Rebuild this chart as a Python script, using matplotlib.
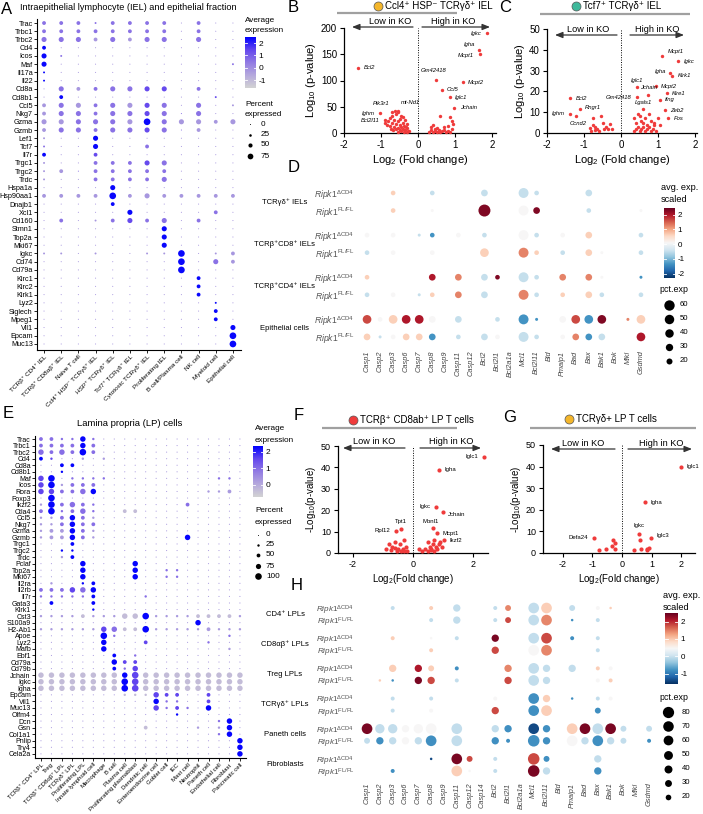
import numpy as np
import matplotlib
matplotlib.use('Agg')
import matplotlib.pyplot as plt
from matplotlib.colors import LinearSegmentedColormap, Normalize

plt.rcParams['font.family'] = ['Liberation Sans', 'DejaVu Sans']
plt.rcParams['mathtext.fontset'] = 'custom'
plt.rcParams['mathtext.rm'] = 'Liberation Sans'
plt.rcParams['mathtext.it'] = 'Liberation Sans:italic'
plt.rcParams['mathtext.bf'] = 'Liberation Sans:bold'
plt.rcParams['axes.unicode_minus'] = False

# ---------------- data: panel A (IEL dot plot) ----------------
genes_A = ['Trac', 'Trbc1', 'Trbc2', 'Cd4', 'Icos', 'Maf', 'Il17a', 'Il22', 'Cd8a', 'Cd8b1',
           'Ccl5', 'Nkg7', 'Gzma', 'Gzmb', 'Lef1', 'Tcf7', 'Il7r', 'Trgc1', 'Trgc2', 'Trdc',
           'Hspa1a', 'Hsp90aa1', 'Dnajb1', 'Xcl1', 'Cd160', 'Stmn1', 'Top2a', 'Mki67', 'Igkc', 'Cd74',
           'Cd79a', 'Klrc1', 'Klrc2', 'Klrk1', 'Lyz2', 'Siglech', 'Mpeg1', 'Vil1', 'Epcam', 'Muc13']
cells_A = ['TCRβ⁺ CD4⁺ IEL', 'TCRβ⁺ CD8αβ⁺ IEL', 'Naive T cell', 'Ccl4⁺ HSP⁻ TCRγδ⁺ IEL',
           'HSP⁺ TCRγδ⁺ IEL', 'Tcf7⁺ TCRγδ⁺ IEL', 'Cytotoxic TCRγδ⁺ IEL', 'Proliferating IEL',
           'B cell/Plasma cell', 'NK cell', 'Myeloid cell', 'Epithelial cell']
# percent-expressed class per cell (one char per cell type)
pct_A = ['222122220200', '222222220200', '333232330300', '200000000000', '310000000000',
         '300000000001', '100000000000', '100000000000', '032233330200', '020000000010',
         '233233330301', '233233330300', '333333433323', '233233330200', '100300000000',
         '100300200000', '200200000000', '100222330000', '120222220000', '100222230000',
         '000030000000', '222242322222', '000020000000', '000003000020', '020123230200',
         '000000030000', '000000030000', '000000030000', '110100114012', '000000004032',
         '000000004000', '000000000200', '000000000200', '000000000200', '000000000010',
         '000000000020', '000000000020', '000000000003', '000000000004', '000000000004']
# average-expression class per cell
exp_A = ['222222221211', '222222221211', '222121221211', '411111111111', '421111111111',
         '411111111112', '411111111111', '411111111111', '121222331211', '141111111131',
         '121221321211', '122222322211', '112221421111', '122222322111', '111411111111',
         '211411211111', '411311111111', '111222321111', '112222221111', '111222221111',
         '111141111111', '111141111111', '111141111111', '111114111121', '121123221211',
         '111111141111', '111111141111', '111111141111', '111111114111', '111111114121',
         '111111114111', '111111111411', '111111111411', '111111111411', '111111111141',
         '111111111141', '111111111141', '111111111114', '111111111114', '111111111114']
pct_val_A = {'0': 1, '1': 15, '2': 45, '3': 65, '4': 90}
exp_val_A = {'0': -1.2, '1': -0.2, '2': 0.6, '3': 1.4, '4': 2.4}

# ---------------- data: panel E (LP dot plot) ----------------
genes_E = ['Trac', 'Trbc1', 'Trbc2', 'Cd4', 'Cd8a', 'Cd8b1', 'Maf', 'Icos', 'Rora', 'Foxp3',
           'Ikzf2', 'Ctla4', 'Ccl5', 'Nkg7', 'Gzma', 'Gzmb', 'Trgc1', 'Trgc2', 'Trdc', 'Pclaf',
           'Top2a', 'Mki67', 'Il2ra', 'Il2rb', 'Il7r', 'Gata3', 'Klrk1', 'Cst3', 'S100a9', 'H2-Ab1',
           'Apoe', 'Lyz2', 'Mafb', 'Ebf1', 'Cd79a', 'Cd79b', 'Jchain', 'Igkc', 'Igha', 'Epcam',
           'Vil1', 'Muc13', 'Olfm4', 'Dcn', 'Gsn', 'Col1a1', 'Pnlip', 'Try4', 'Cela2a']
cells_E = ['TCRβ⁺ CD4⁺ LPL', 'Treg', 'TCRβ⁺ CD8αβ⁺ LPL', 'TCRγδ⁺ LPL', 'Proliferating LPL',
           'Innate lymphoid cell', 'Macrophage', 'B cell', 'Plasma cell', 'Proliferating plasmablast',
           'Dendritic cell', 'Enteroendocrine cell', 'Goblet cell', 'IEC', 'Mast cell', 'Neutrophil',
           'Paneth cell', 'Endothelial cell', 'Fibroblast', 'Pancreatic cell']
pct_E = ['22113100000000000000', '22223200000000000000', '32324200000000000000', '21001010000000000000',
         '00220000000000000000', '00100000000000000000', '34011110000000000110', '34122200000000000000',
         '33223300000000001120', '04000000000000000000', '14232100000000200000', '24123100220000000000',
         '11232100000000000000', '11232200000000000000', '12232100000000000000', '12232100000000300000',
         '00020000000000000000', '00110000000000000000', '00120000000000000000', '00003000030000000000',
         '00003000030011000000', '00003000030011000000', '01001200000000000000', '22233300000000000000',
         '11111200001000000000', '02000200000000000000', '00000100000000000000', '11112111334111122221',
         '00000000000000030000', '11111133224111112111', '00000041000000000010', '00000030002000001000',
         '00000030000000000010', '00000002010000000000', '00000003220000000000', '00000002130000000000',
         '33333333343333333333', '33333333443333333333', '33333333443333333333', '00000000111322002000',
         '00000000000311002000', '00000000000312103000', '00000000000001000000', '00000000000000000130',
         '00000000002000010130', '00000000000000000130', '00000000000000000003', '00000000000000000003',
         '00000000000000000003']
exp_E = ['22224211111111111111', '22224211111111111111', '22224211111111111111', '43111111111111111111',
         '11441111111111111111', '11411111111111111111', '34122221111111111221', '34122211111111111111',
         '33222411111111111111', '14111111111111111111', '14222211111111211111', '24222211001111111111',
         '11242111111111111111', '11242211111111111111', '11142111111111111111', '11142111111111411111',
         '11141111111111111111', '11441111111111111111', '11141111111111111111', '11114111141111111111',
         '11114111141122111111', '11114111141122111111', '11114411111111111111', '22232411111111111111',
         '22222411112111111111', '14111411111111111111', '11111411111111111111', '11110111004111100001',
         '11111111111111141111', '11111132004111111111', '11111142111111111121', '11111141113111112111',
         '11111141111111111111', '11111114121111111111', '11111114331111111111', '11111114231111111111',
         '00000000430000000000', '00000000430000000000', '00000000430000000000', '11111111000333113111',
         '11111111111422113111', '11111111111323214111', '11111111111114111111', '11111111111111111241',
         '11111111110111111141', '11111111111111111241', '11111111111111111114', '11111111111111111114',
         '11111111111111111114']
pct_val_E = {'0': 2, '1': 25, '2': 50, '3': 80, '4': 100}
exp_val_E = {'0': -0.3, '1': 0.3, '2': 1.0, '3': 1.6, '4': 2.3}

# ---------------- data: panels D and H (apoptosis genes) ----------------
genes_D = ['Casp1', 'Casp2', 'Casp3', 'Casp6', 'Casp7', 'Casp8', 'Casp9', 'Casp11', 'Casp12', 'Bcl2',
           'Bcl2l1', 'Bcl2a1a', 'Mcl1', 'Bcl2l11', 'Bid', 'Pmaip1', 'Bad', 'Bax', 'Bak1', 'Bok',
           'Mlkl', 'Gsdmd']
groups_D = ['TCRγδ⁺ IELs', 'TCRβ⁺CD8⁺ IELs', 'TCRβ⁺CD4⁺ IELs', 'Epithelial cells']
# token = colour class + size class, '.' = not detected
cells_D = [
    ". . p1 . . c1 . . . c2 . . c4 c1 . . . c2 . . . .",
    ". . p1 . . w0 . . . D6 . . w4 D2 . . . c1 . . . w0",
    "w1 . w1 . c0 b1 . w1 . c1 . . w4 c1 . w1 . p2 . . . c1",
    "c1 . w1 . . w1 . . . p3 . . r4 p1 . c1 . p2 w0 . . c1",
    "p1 . . . . R2 . r2 . c2 D1 . c4 c1 . r2 . r2 w0 . . b0",
    "c1 . w1 . c0 p1 . r2 . c2 . . r4 c1 . p1 . p2 c1 . . c1",
    "o3 w1 p3 R3 R3 w2 . c2 . . c1 . b4 b0 . w2 o3 b3 D3 . r0 p3",
    "p2 c0 w1 p2 p2 b2 . c1 . c2 w1 . c4 c1 . w1 r2 b2 c2 . . R3",
]
exp_val_D = {'B': -2.05, 'b': -1.35, 'c': -0.5, 'w': 0.08, 'p': 0.65, 'r': 1.25, 'o': 1.65, 'R': 2.0, 'D': 2.3}
pct_val_D = {'0': 5, '1': 12, '2': 25, '3': 42, '4': 55, '5': 70, '6': 80}

genes_H = ['Casp1', 'Casp2', 'Casp3', 'Casp6', 'Casp7', 'Casp8', 'Casp9', 'Casp11', 'Casp12', 'Casp14',
           'Bcl2', 'Bcl2l1', 'Bcl2a1a', 'Mcl1', 'Bcl2l11', 'Bid', 'Pmaip1', 'Bad', 'Bax', 'Bak1',
           'Bok', 'Mlkl', 'Gsdmd']
groups_H = ['CD4⁺ LPLs', 'CD8αβ⁺ LPLs', 'Treg LPLs', 'TCRγδ⁺ LPLs', 'Paneth cells', 'Fibroblasts']
cells_H = [
    ". . c1 . . p1 . c3 . . c1 r2 . c5 p5 . c2 . w1 p0 . . .",
    ". . . . . c1 . c3 . . c1 o2 . c5 r5 . b0 . c1 . . . .",
    ". . p1 . . w0 . c1 . . D3 . . c5 o5 . b1 . c1 . . . .",
    ". . . . . p1 . . . . o3 . . w5 r5 . . . c1 . . . .",
    ". . p3 . R3 p2 . b1 . . . r3 . c5 c3 . c3 . p1 w1 . . .",
    ". p0 b0 . D3 o3 . c1 . . . o3 . c5 c3 . . . w1 p1 . . .",
    ". . c1 . . c1 . . . . w1 . . b5 p3 . b0 . c1 w1 . . .",
    ". . c1 . . w1 . . . . o3 . . b5 p5 . . . b2 . . . .",
    "D5 c4 c4 w3 w4 w5 . c5 . . c3 b3 . B5 b3 . p5 D5 c5 D5 c2 . c2",
    "c2 b3 c3 w3 c3 b5 . c5 . . b3 b1 . b6 b3 . w5 c3 b5 c3 c2 . b1",
    ". . . . . B0 . D5 o2 . c1 . . o6 b2 . . . c3 . . . .",
    ". . b1 . . . . p5 w0 . c1 . . D6 c3 . . . b3 . . . .",
]
exp_val_H = {'B': -1.4, 'b': -0.8, 'c': -0.05, 'w': 0.45, 'p': 0.95, 'r': 1.45, 'o': 1.8, 'R': 2.1, 'D': 2.4}
pct_val_H = {'0': 4, '1': 10, '2': 22, '3': 34, '4': 55, '5': 72, '6': 84}

# ---------------- data: volcano plots ----------------
B_lab = ['Bcl2', 'Ighm', 'Pik3r1', 'mt-Nd1', 'Bcl2l11', 'Gm42418', 'Ccl5', 'Iglc1', 'Jchain',
         'Mcpt2', 'Igha', 'Mcpt1', 'Igkc']
B_lab_x = [-1.62, -1.03, -0.7, -0.55, -0.9, 0.49, 0.63, 0.85, 0.98, 1.2, 1.65, 1.66, 1.87]
B_lab_y = [124, 38, 40, 42, 24, 101, 82, 68, 48, 97, 158, 151, 190]
B_bg_x = [-0.62, -0.55, -0.6, -0.7, -0.45, -0.4, -0.75, -0.5, -0.65, -0.35, -0.8, -0.55, -0.42,
          -0.7, -0.3, -0.6, -0.5, -0.38, -0.75, -0.65, -0.45, -0.3, -0.55, -0.4, -0.6, -0.35, -0.5,
          -0.28, -0.45, -0.38, -0.3, -0.55, -0.25, -0.68, -0.85, -0.9, -0.72, -0.33,
          0.3, 0.35, 0.4, 0.45, 0.5, 0.55, 0.6, 0.65, 0.7, 0.75, 0.8, 0.85, 0.35, 0.45, 0.6, 0.85,
          0.9, 0.95, 0.5, 0.4, 0.7, 0.9, 0.55, 0.8]
B_bg_y = [42, 40, 36, 33, 32, 30, 28, 27, 25, 25, 22, 22, 20, 19, 18, 17, 15, 14, 13, 12, 11, 10,
          9, 8, 7, 6, 5, 4, 3, 2, 1.5, 2, 3, 5, 15, 20, 8, 12,
          2, 5, 1, 3, 2, 4, 1, 3, 6, 2, 4, 1, 12, 8, 33, 30, 22, 18, 10, 15, 12, 8, 6, 14]

C_lab = ['Mcpt1', 'Igkc', 'Igha', 'Klrk1', 'Iglc1', 'Mcpt2', 'Jchain', 'Gm42418', 'Klre1', 'Ifng',
         'Zeb2', 'Fos', 'Lgals1', 'Bcl2', 'Rngr1', 'Ighm', 'Ccnd2']
C_lab_x = [1.1, 1.55, 1.32, 1.38, 0.42, 0.93, 0.73, 0.42, 1.23, 1.04, 1.18, 1.27, 0.6, -1.37,
           -1.12, -1.37, -1.23]
C_lab_y = [37, 34.5, 29, 27.5, 22, 22.5, 18.5, 17.5, 19, 16, 11, 7, 11.5, 16.8, 11.7, 9.3, 8]
C_bg_x = [-0.75, -0.55, -0.5, -0.75, -0.85, -0.7, -0.65, -0.45, -0.4, -0.35, -0.3, -0.25, -0.7,
          -0.6, -0.8, 0.35, 0.4, 0.45, 0.5, 0.55, 0.6, 0.65, 0.7, 0.75, 0.8, 0.85, 0.9, 0.95, 1.0,
          0.35, 0.4, 0.5, 0.6, 0.7, 0.8, 0.9, 1.05, 0.45, 0.55, 0.65, 0.75]
C_bg_y = [7, 8, 5, 4, 2.5, 3, 2, 2, 3, 2, 4.5, 2, 1.5, 1, 1, 7, 5, 3, 8, 2, 5, 1, 4, 3, 6, 2, 4,
          1, 7, 1, 2, 1, 3, 2, 1, 5, 4, 9, 6, 7, 9]

F_lab = ['Iglc1', 'Igha', 'Igkc', 'Jchain', 'Mbnl1', 'Mcpt1', 'Ikzf2', 'Tpt1', 'Rpl12']
F_lab_x = [2.37, 0.87, 0.77, 0.99, 0.68, 0.79, 1.03, -0.4, -0.57]
F_lab_y = [45, 38.8, 21.5, 19.2, 11.7, 9.3, 6, 11, 10.3]
F_bg_x = [-0.9, -0.8, -0.7, -0.6, -0.5, -0.45, -0.4, -0.3, -0.25, -0.2, -0.55, -0.35, -0.6, -0.75,
          -0.3, 0.2, 0.3, 0.5, 0.55, 0.6, 0.65, 0.7, 0.75, 0.8, 0.85, 0.9, 0.95, 0.5, 0.6, 0.7, 0.4]
F_bg_y = [2, 4, 3, 5, 2, 4, 1, 6, 3, 1, 1, 2, 2.5, 1.5, 1, 2, 1, 5, 3, 2, 4, 1, 3, 2, 4, 5, 3, 1,
          1.5, 6, 2]

G_lab = ['Iglc1', 'Igha', 'Igkc', 'Iglc3', 'Defa24']
G_lab_x = [2.0, 0.78, 0.57, 0.97, -0.95]
G_lab_y = [40, 23.5, 8.7, 7, 7]
G_bg_x = [-0.3, -0.25, -0.33, -0.25, -0.53, -0.76, 0.62, 0.42, 0.64, 0.85, 0.9, 0.83]
G_bg_y = [6, 4.5, 3.4, 2, 1.9, 1.6, 5.8, 1.5, 2, 1.5, 2.4, 1.9]

# ---------------- helpers ----------------
W, H = 703, 814
fig = plt.figure(figsize=(W / 100, H / 100), dpi=100)
red = '#ef3b3b'
cmap_gb = LinearSegmentedColormap.from_list(
    'gb', ['#d3d3d3', '#b5a9dd', '#927be3', '#6447ee', '#0000ff'])
cmap_rb = plt.get_cmap('RdBu_r')


def px_axes(x0, y0, x1, y1):
    return fig.add_axes([x0 / W, 1 - y1 / H, (x1 - x0) / W, (y1 - y0) / H])


def ftext(x, y, s, **kw):
    kw.setdefault('va', 'center')
    fig.text(x / W, 1 - y / H, s, **kw)


def seurat_dotplot(ax, genes, cells, pct, ex, pct_val, exp_val, vmin, vmax, slope, gfs, xfs):
    xs, ys, ss, cs = [], [], [], []
    for i in range(len(genes)):
        for j in range(len(cells)):
            xs.append(j)
            ys.append(i)
            d = 1.0 + slope * pct_val[pct[i][j]]
            ss.append((d * 0.72) ** 2)
            cs.append(exp_val[ex[i][j]])
    ax.scatter(xs, ys, s=ss, c=cs, cmap=cmap_gb, vmin=vmin, vmax=vmax, linewidths=0, clip_on=False)
    ax.set_yticks(range(len(genes)))
    ax.set_yticklabels(genes, fontsize=gfs)
    ax.set_xticks(range(len(cells)))
    ax.set_xticklabels(cells, rotation=45, ha='right', rotation_mode='anchor', fontsize=xfs)
    ax.tick_params(length=2, width=0.6, pad=1)
    for sp in ['top', 'right']:
        ax.spines[sp].set_visible(False)
    for sp in ['left', 'bottom']:
        ax.spines[sp].set_linewidth(0.8)


def ripk_dotplot(ax, genes, groups, rows, exp_val, pct_val, norm, k, step, gx, rfs):
    xs, ys, ss, cs = [], [], [], []
    ypos = []
    for r, row in enumerate(rows):
        y = (r // 2) * step + (r % 2)
        ypos.append(y)
        for j, tok in enumerate(row.split()):
            if tok == '.':
                continue
            xs.append(j)
            ys.append(y)
            cs.append(exp_val[tok[0]])
            ss.append(k * pct_val[tok[1]])
    ax.scatter(xs, ys, s=ss, c=cs, cmap=cmap_rb, norm=norm, linewidths=0, clip_on=False)
    ax.set_xticks(range(len(genes)))
    ax.set_xticklabels(genes, rotation=90, fontsize=5.3, style='italic', color='#444')
    ax.set_yticks(ypos)
    ax.set_yticklabels([r'$\mathit{Ripk1}^{\Delta \mathrm{CD4}}$' if r % 2 == 0
                        else r'$\mathit{Ripk1}^{\mathrm{FL/FL}}$' for r in range(len(rows))],
                       fontsize=rfs, color='#555')
    ax.tick_params(length=0, pad=4)
    for sp in ax.spines.values():
        sp.set_visible(False)
    for g, name in enumerate(groups):
        ax.text(gx, g * step + 0.5, name, fontsize=5.5, ha='center', va='center')


def colorbar(x0, y0, x1, y1, cmap, vmin, vmax, ticks, norm=None, fs=6):
    cax = px_axes(x0, y0, x1, y1)
    grad = np.linspace(vmin, vmax, 256).reshape(-1, 1)
    cax.imshow(grad, aspect='auto', origin='lower', cmap=cmap,
               norm=norm if norm is not None else Normalize(vmin, vmax),
               extent=[0, 1, vmin, vmax])
    for t in ticks:
        cax.plot([0, 0.2], [t, t], color='white', lw=0.6)
        cax.plot([0.8, 1], [t, t], color='white', lw=0.6)
    cax.set_xlim(0, 1)
    cax.set_ylim(vmin, vmax)
    cax.set_xticks([])
    cax.yaxis.tick_right()
    cax.set_yticks(ticks)
    cax.tick_params(axis='y', length=0, labelsize=fs, pad=2)
    for sp in cax.spines.values():
        sp.set_visible(False)


def volcano(ax, xlim, xticks, ylim, yticks, bgx, bgy, lab, lx, ly, offs, psize, italic,
            lfs, ylab, xlab, tfs, afs):
    ax.scatter(bgx, bgy, s=psize, color=red, linewidths=0, clip_on=False, zorder=3)
    ax.scatter(lx, ly, s=psize, color=red, linewidths=0, clip_on=False, zorder=3)
    for name, x, y, (dx, dy, ha) in zip(lab, lx, ly, offs):
        ax.annotate(name, (x, y), xytext=(dx, dy), textcoords='offset points', ha=ha,
                    va='center', fontsize=lfs, style='italic' if italic else 'normal',
                    annotation_clip=False)
    ax.axvline(0, color='k', ls=(0, (1, 1.5)), lw=0.7)
    ax.set_xlim(*xlim)
    ax.set_ylim(*ylim)
    ax.set_xticks(xticks)
    ax.set_yticks(yticks)
    ax.tick_params(labelsize=tfs, length=3, width=0.8, pad=2)
    for sp in ['top', 'right']:
        ax.spines[sp].set_visible(False)
    for sp in ['left', 'bottom']:
        ax.spines[sp].set_linewidth(0.9)
    ax.set_ylabel(ylab, fontsize=afs, labelpad=2)
    ax.set_xlabel(xlab, fontsize=afs, labelpad=2)


# ---------------- panel A ----------------
axA = px_axes(37, 19, 241, 350)
seurat_dotplot(axA, genes_A, cells_A, pct_A, exp_A, pct_val_A, exp_val_A, -1.65, 2.5, 0.063, 5.2, 4.6)
axA.set_xlim(-0.41, 11.47)
axA.set_ylim(39.73, -0.49)
colorbar(245, 37, 256, 88, cmap_gb, -1.65, 2.5, [2, 1, 0, -1], fs=6)

# ---------------- panel E ----------------
axE = px_axes(35, 436, 246, 758)
seurat_dotplot(axE, genes_E, cells_E, pct_E, exp_E, pct_val_E, exp_val_E, -0.73, 2.36, 0.056, 5.0, 4.3)
axE.set_xlim(-0.57, 19.58)
axE.set_ylim(48.63, -0.46)
colorbar(253, 446, 263, 497, cmap_gb, -0.73, 2.36, [2, 1, 0], fs=6)

# ---------------- panel D ----------------
axD = px_axes(360, 180, 648, 345)
ripk_dotplot(axD, genes_D, groups_D, cells_D, exp_val_D, pct_val_D, Normalize(-2.3, 2.45),
             0.93, 2.4, -6.3, 6.2)
axD.set_xlim(-0.54, 21.54)
axD.set_ylim(8.66, -0.74)
colorbar(664, 208, 675, 278, cmap_rb, -2.3, 2.45, [2, 1, 0, -1, -2], fs=5.8)

# ---------------- panel H ----------------
axH = px_axes(360, 598, 656, 777)
ripk_dotplot(axH, genes_H, groups_H, cells_H, exp_val_H, pct_val_H, Normalize(-1.6, 2.5),
             0.82, 2.5, -6.4, 5.9)
axH.set_xlim(-0.55, 22.54)
axH.set_ylim(14.0, -0.83)
colorbar(665, 613, 678, 684, cmap_rb, -1.6, 2.5, [2, 1, 0, -1], fs=5.8)

# ---------------- volcanoes ----------------
axB = px_axes(344, 28, 496, 133)
offs_B = [(4, 0, 'left'), (-4, 0, 'right'), (-2, 6, 'right'), (2, 6, 'left'), (-4, 0, 'right'),
          (-2, 7, 'center'), (4, 0, 'left'), (4, 0, 'left'), (4, 0, 'left'), (4, 0, 'left'),
          (-3, 4, 'right'), (-4, -1, 'right'), (-4, 0, 'right')]
volcano(axB, (-2, 2.1), [-2, -1, 0, 1, 2], (0, 200), [0, 50, 100, 150, 200], B_bg_x, B_bg_y,
        B_lab, B_lab_x, B_lab_y, offs_B, 6, True, 4.2, 'Log$_{10}$ (p-value)',
        'Log$_{2}$ (Fold change)', 7, 8)

axC = px_axes(547, 29, 697, 133)
offs_C = [(4, 3, 'left'), (4, 0, 'left'), (-3, 1, 'right'), (4, 0, 'left'), (0, 5, 'center'),
          (4, 0, 'left'), (0, 5, 'center'), (-4, -1, 'right'), (4, 0, 'left'), (4, 0, 'left'),
          (4, 0, 'left'), (4, 0, 'left'), (0, 5, 'center'), (4, 0, 'left'), (4, 1, 'left'),
          (-4, 0, 'right'), (2, -5, 'center')]
volcano(axC, (-2, 2.05), [-2, -1, 0, 1, 2], (0, 50), [0, 10, 20, 30, 40, 50], C_bg_x, C_bg_y,
        C_lab, C_lab_x, C_lab_y, offs_C, 6, True, 4.2, 'Log$_{10}$ (p-value)',
        'Log$_{2}$ (Fold change)', 7, 8)

axF = px_axes(338, 446, 488, 553)
offs_F = [(-4, 0, 'right'), (4, 0, 'left'), (-4, 0, 'right'), (4, -2, 'left'), (-2, 5, 'center'),
          (4, 0, 'left'), (4, 0, 'left'), (0, 6, 'center'), (-4, 0, 'right')]
volcano(axF, (-2.5, 2.5), [-2, 0, 2], (0, 50), [0, 10, 20, 30, 40, 50], F_bg_x, F_bg_y,
        F_lab, F_lab_x, F_lab_y, offs_F, 9, False, 4.3, '-Log$_{10}$(p-value)',
        'Log$_{2}$(Fold change)', 6.5, 7)

axG = px_axes(543, 445, 695, 553)
offs_G = [(4, 0, 'left'), (4, 0, 'left'), (0, 6, 'center'), (4, 2, 'left'), (-4, 0, 'right')]
volcano(axG, (-2.66, 2.46), [-2, -1, 0, 1, 2], (0, 50), [0, 10, 20, 30, 40, 50], G_bg_x, G_bg_y,
        G_lab, G_lab_x, G_lab_y, offs_G, 9, False, 4.3, '-Log$_{10}$(p-value)',
        'Log$_{2}$(Fold change)', 6.5, 7)

# ---------------- titles, legends and annotations ----------------
ftext(20, 7, 'Intraepithelial lymphocyte (IEL) and epithelial fraction', fontsize=6.6)
ftext(130, 424, 'Lamina propria (LP) cells', fontsize=6.8, ha='center')
for letter, x, y in [('A', 1, 10), ('B', 288, 8), ('C', 499, 8), ('D', 288, 167),
                     ('E', 3, 413), ('F', 294, 415), ('G', 503, 417), ('H', 291, 586)]:
    ftext(x, y, letter, fontsize=12)

ftext(245, 20, 'Average', fontsize=5.9)
ftext(245, 31, 'expression', fontsize=5.9)
ftext(245, 104, 'Percent', fontsize=5.9)
ftext(245, 114, 'expressed', fontsize=5.9)
ftext(255, 429, 'Average', fontsize=5.9)
ftext(255, 440, 'expression', fontsize=5.9)
ftext(255, 511, 'Percent', fontsize=5.9)
ftext(255, 523, 'expressed', fontsize=5.9)
ftext(661, 188, 'avg. exp.', fontsize=6.6)
ftext(661, 200, 'scaled', fontsize=6.6)
ftext(659, 290, 'pct.exp', fontsize=6.4)
ftext(663, 596, 'avg. exp.', fontsize=6.6)
ftext(663, 607, 'scaled', fontsize=6.6)
ftext(659, 697, 'pct.exp', fontsize=6.4)

ov = fig.add_axes([0, 0, 1, 1])
ov.set_xlim(0, W)
ov.set_ylim(H, 0)
ov.axis('off')
ov.patch.set_alpha(0)

# size legends
leg_A = [0, 25, 50, 75]
for p, y in zip(leg_A, [124, 135, 145, 156]):
    ov.scatter(250, y, s=((1 + 0.063 * p) * 0.72) ** 2, color='k', linewidths=0)
    ov.text(261, y, str(p), fontsize=5.9, va='center')
leg_E = [0, 25, 50, 75, 100]
for p, y in zip(leg_E, [535, 545, 555, 566, 576]):
    ov.scatter(258, y, s=((1 + 0.056 * p) * 0.72) ** 2, color='k', linewidths=0)
    ov.text(266, y, str(p), fontsize=5.9, va='center')
leg_D = [60, 50, 40, 30, 20]
for p, y in zip(leg_D, [305, 319, 333, 347, 361]):
    ov.scatter(669, y, s=0.93 * p, color='k', linewidths=0)
    ov.text(680, y, str(p), fontsize=5.6, va='center')
leg_H = [80, 70, 60, 50, 40, 30, 20]
for p, y in zip(leg_H, [712, 726, 740, 755, 769, 783, 797]):
    ov.scatter(668, y, s=0.82 * p, color='k', linewidths=0)
    ov.text(682, y, str(p), fontsize=5.6, va='center')

# volcano headers
headers = [(378, 6, '#f4b62b', 'Ccl4⁺ HSP⁻ TCRγδ⁺ IEL', 337, 457, 13),
           (576, 6, '#3fb99b', 'Tcf7⁺ TCRγδ⁺ IEL', 540, 690, 14),
           (353, 420, '#ef3b3b', 'TCRβ⁺ CD8ab⁺ LP T cells', 322, 457, 428),
           (569, 419, '#f4b62b', 'TCRγδ+ LP T cells', 530, 696, 428)]
for cx, cy, col, txt, lx0, lx1, ly in headers:
    ov.scatter(cx, cy, s=42, color=col, edgecolors='#555', linewidths=0.5)
    ov.text(cx + 7, cy, txt, fontsize=7, va='center')
    ov.plot([lx0, lx1], [ly, ly], color='#a0a0a0', lw=1.6, solid_capstyle='butt')

# Low / High in KO arrows
arrows = [(413, 352, 390, 422, 490, 453, 27, 21),
          (617, 555, 588, 630, 684, 657, 35, 29),
          (405, 343, 374, 420, 481, 451, 448, 442),
          (615, 551, 583, 628, 692, 661, 449, 443)]
for a0, a1, tl, b0, b1, th, ya, yt in arrows:
    for s0, s1 in [(a0, a1), (b0, b1)]:
        ov.annotate('', xy=(s1, ya), xytext=(s0, ya),
                    arrowprops=dict(arrowstyle='-|>,head_length=0.45,head_width=0.18',
                                    color='#333', lw=0.9, shrinkA=0, shrinkB=0))
    ov.text(tl, yt, 'Low in KO', fontsize=6.6, ha='center', va='center')
    ov.text(th, yt, 'High in KO', fontsize=6.6, ha='center', va='center')

fig.savefig('out.png', dpi=100)
